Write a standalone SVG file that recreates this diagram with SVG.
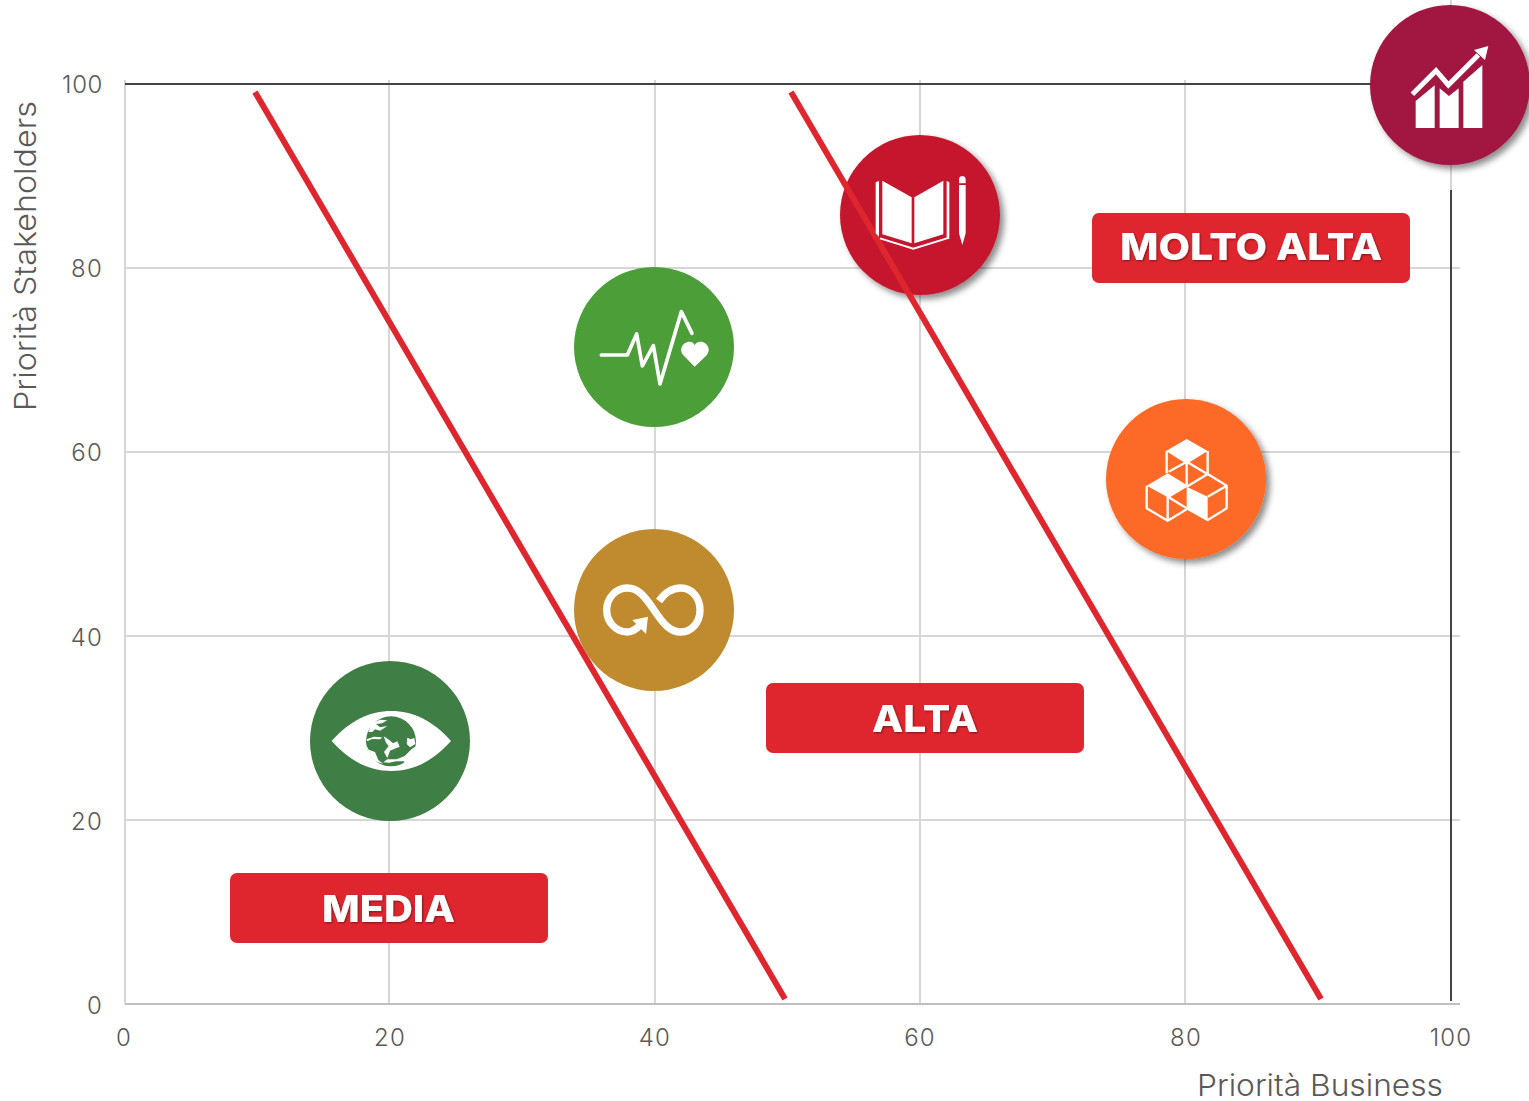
<svg xmlns="http://www.w3.org/2000/svg" width="1529" height="1101" viewBox="0 0 1529 1101">
<style>
.grid{stroke:#d6d6d6;stroke-width:2;fill:none}
.dark{stroke:#444;stroke-width:2;fill:none}
.ax{font-family:Inter,"Liberation Sans",sans-serif;font-weight:300;font-size:24px;letter-spacing:1.200px;fill:#595959}
.title{font-family:Inter,"Liberation Sans",sans-serif;font-weight:300;font-size:30px;fill:#595959}
.band{fill:#df262e}
.bandt{font-family:Inter,"Liberation Sans",sans-serif;font-weight:800;font-size:37px;fill:#fff;text-anchor:middle;filter:url(#ts)}
.rl{stroke:#df262e;stroke-width:6;fill:none}
.w{fill:#fff}
.ws{fill:none;stroke:#fff}
</style>
<defs>
<filter id="sh" x="-20%" y="-20%" width="150%" height="150%"><feDropShadow dx="4" dy="4" stdDeviation="3" flood-color="#000" flood-opacity=".45"/></filter>
<filter id="ts" x="-10%" y="-20%" width="120%" height="150%"><feDropShadow dx="1" dy="1" stdDeviation="1" flood-color="#000" flood-opacity=".45"/></filter>
</defs>
<rect width="1529" height="1101" fill="#fff"/>
<g id="grid">
<path class="grid" d="M125 80V1004M389 80V1004M655 80V1004M920 80V1004M1185 80V1004M1451 0V190"/>
<path class="grid" d="M125 268H1460M125 452H1460M125 636H1460M125 820H1460"/>
<path d="M125 1004H1460" stroke="#bfbfbf" stroke-width="2" fill="none"/>
<path class="dark" d="M125 84H1375M1451 190V1001"/>
</g>
<g id="axis-labels">
<g class="ax" text-anchor="end">
<text x="103" y="93" letter-spacing="0.600">100</text>
<text x="103" y="277">80</text><text x="103" y="461">60</text><text x="103" y="646">40</text><text x="103" y="830">20</text><text x="103" y="1014">0</text>
</g>
<g class="ax" text-anchor="middle">
<text x="124" y="1046">0</text><text x="390" y="1046">20</text><text x="655" y="1046">40</text><text x="920" y="1046">60</text><text x="1186" y="1046">80</text><text x="1451" y="1046">100</text>
</g>
<text class="title" x="1197" y="1096" textLength="246" lengthAdjust="spacingAndGlyphs">Priorità Business</text>
<text class="title" transform="translate(36,411) rotate(-90)" textLength="310" lengthAdjust="spacingAndGlyphs">Priorità Stakeholders</text>
</g>
<g id="connectors">
<path class="rl" d="M255 92L785 999"/>
</g>
<g id="media"><rect class="band" x="230" y="873" width="318" height="70" rx="7"/><text class="bandt" x="388.500" y="922" textLength="133" lengthAdjust="spacingAndGlyphs">MEDIA</text></g>
<g id="alta"><rect class="band" x="766" y="683" width="318" height="70" rx="7"/><text class="bandt" x="925" y="732" textLength="106" lengthAdjust="spacingAndGlyphs">ALTA</text></g>
<g id="molto-alta"><rect class="band" x="1092" y="213" width="318" height="70" rx="7"/><text class="bandt" x="1251" y="260" textLength="262" lengthAdjust="spacingAndGlyphs">MOLTO ALTA</text></g>
<g id="node-eye">
<circle cx="390" cy="741" r="80" fill="#3f7e44"/>
<g transform="translate(300,652) scale(.33333)">
<path class="w" d="M95 267C150 205 210 177 274 177C338 177 398 205 453 267C398 329 338 357 274 357C210 357 150 329 95 267Z"/>
<circle cx="273" cy="268" r="75" fill="#3f7e44"/>
<path class="w" d="M205 240L216 213L240 203L262 205L246 214L228 216L240 226L262 222L240 236L225 232L217 240Z"/>
<path class="w" d="M200 262L222 254L246 256L241 262L216 261L202 268Z"/>
<path class="w" d="M251 253L265 262L279 274L292 268L299 284L284 290L270 296L262 318L252 300L266 282L258 272Z"/>
<path class="w" d="M197 275L206 293L225 300L235 324L250 336L226 328L206 306Z"/>
<path class="w" d="M250 331L262 322L290 322L314 312L336 290L349 282L342 314L316 336L312 328L288 328L268 332Z"/>
<path class="w" d="M322 257L332 262L343 258L346 276L330 286L320 276Z"/>
</g>
</g>
<g id="node-health">
<circle cx="654" cy="347" r="80" fill="#4c9f38"/>
<g transform="translate(564,260) scale(.33333)">
<path class="ws" stroke-width="11" stroke-linecap="round" stroke-linejoin="round" d="M112 285H190L218 222L235 318L268 257L288 372L352 155L384 220"/>
<path class="w" d="M392 320L358 286C342 265 360 245 376 245C385 245 390 250 392 256C394 250 401 245 410 245C426 245 444 265 428 286Z"/>
</g>
</g>
<g id="node-infinity">
<ellipse cx="654" cy="610" rx="80" ry="81" fill="#bf8b2e"/>
<g transform="translate(564,520) scale(.33333)">
<path class="ws" stroke-width="22" d="M285 243C300 222 320 204 350 204C385 204 408 235 408 270C408 305 385 336 350 336C320 336 300 315 270 270C240 225 220 204 190 204C155 204 128 235 128 270C128 305 155 336 190 336C205 336 215 330 228 316"/>
<path class="w" d="M205 300L252 290L246 342Z"/>
</g>
</g>
<g id="node-book">
<circle cx="920" cy="215" r="80" fill="#c5192d" filter="url(#sh)"/>
<path class="rl" d="M791 92L1321 999"/>
<g transform="translate(830,125) scale(.33333)">
<path class="w" d="M157 167L245 217V355L157 328ZM253 217L340 167V328L253 355ZM137 172L147 168V335L137 325ZM350 168L358 172V335L350 338Z"/>
<path class="ws" stroke-width="6" d="M150 340L250 371L358 338"/>
<path class="w" d="M387 165A10 12 0 0 1 407 165V175H387ZM387 180H407V325L397 360L387 325Z"/>
</g>
</g>
<g id="node-cubes">
<circle cx="1186" cy="479" r="80" fill="#fd6925" filter="url(#sh)"/>
<g transform="translate(1096,390) scale(.33333)">
<path class="w" d="M272 147L335 183L272 222L210 183ZM215 322L152 287L215 250L272 285ZM272 290L335 320V390L272 355Z"/>
<path class="ws" stroke-width="7" stroke-linejoin="round" d="M212 183V250M335 183V250M272 220V285M218 245L272 215L330 250M272 290L335 252L392 287V355L335 390L272 355M335 320L392 287M152 287V355L215 392V322L272 287M215 392L272 358M218 322L272 355"/>
</g>
</g>
<g id="node-chart">
<circle cx="1450" cy="85" r="80" fill="#a21942" filter="url(#sh)"/>
<g transform="translate(1360,0) scale(.33333)">
<path class="w" d="M167 303L224 256V384H167ZM239 265L267 288L296 265V384H239ZM310 245L367 195V384H310ZM385 138L342 150L375 180Z"/>
<path class="ws" stroke-width="15" d="M157 283L228 212L265 255L355 165"/>
</g>
</g>
</svg>
